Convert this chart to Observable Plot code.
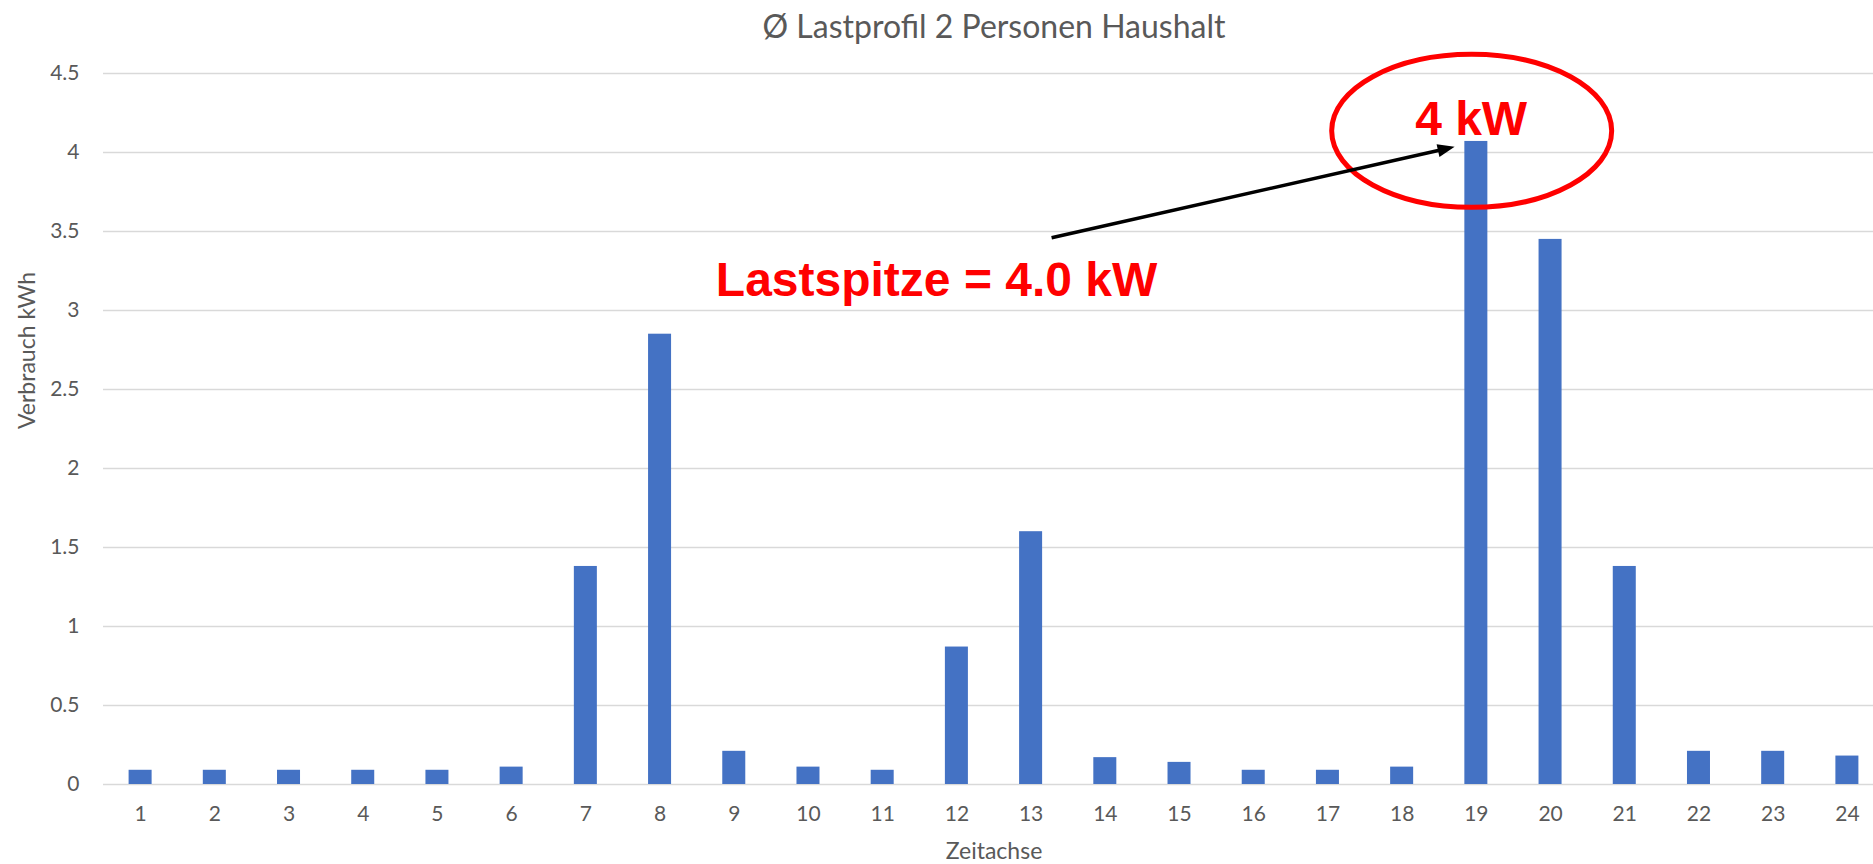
<!DOCTYPE html>
<html>
<head>
<meta charset="utf-8">
<script src="https://cdn.jsdelivr.net/npm/d3@7"></script>
<script src="https://cdn.jsdelivr.net/npm/@observablehq/plot@0.6"></script>
<style>
  html, body { margin: 0; padding: 0; background: #ffffff; }
  #chart svg { display: block; }
</style>
</head>
<body>
<div id="chart"></div>
<script>
// ---- data ----
const hours = [1, 2, 3, 4, 5, 6, 7, 8, 9, 10, 11, 12, 13, 14, 15, 16, 17, 18, 19, 20, 21, 22, 23, 24];
const verbrauch = [0.09, 0.09, 0.09, 0.09, 0.09, 0.11, 1.38, 2.85, 0.21, 0.11, 0.09, 0.87,
                   1.6, 0.17, 0.14, 0.09, 0.09, 0.11, 4.07, 3.45, 1.38, 0.21, 0.21, 0.18];
const yTicks = [0, 0.5, 1, 1.5, 2, 2.5, 3, 3.5, 4, 4.5];
const titleText = "Ø Lastprofil 2 Personen Haushalt";
const yLabel = "Verbrauch kWh";
const xLabel = "Zeitachse";
const peakLabel = "Lastspitze = 4.0 kW";
const peakValueLabel = "4 kW";

const data = hours.map((h, i) => ({hour: h, value: verbrauch[i]}));

// custom symbols for annotations
const ellipseSymbol = {
  draw(ctx) {
    const rx = 140, ry = 76.5, k = 0.5523;
    ctx.moveTo(rx, 0);
    ctx.bezierCurveTo(rx, ry * k, rx * k, ry, 0, ry);
    ctx.bezierCurveTo(-rx * k, ry, -rx, ry * k, -rx, 0);
    ctx.bezierCurveTo(-rx, -ry * k, -rx * k, -ry, 0, -ry);
    ctx.bezierCurveTo(rx * k, -ry, rx, -ry * k, rx, 0);
    ctx.closePath();
  }
};
const headSymbol = {
  draw(ctx) {
    ctx.moveTo(0, 0);
    ctx.lineTo(-17, -6.5);
    ctx.lineTo(-17, 6.5);
    ctx.closePath();
  }
};

const red = "#FF0000";
const grey = "#595959";
const boldFont = "'Liberation Sans', Arial, sans-serif";

const chart = Plot.plot({
  width: 1873,
  height: 864,
  marginLeft: 103,
  marginRight: -11,
  marginTop: 73,
  marginBottom: 80,
  style: {fontFamily: "Lato, 'Open Sans', sans-serif", fontSize: "21px", color: grey, background: "#ffffff", overflow: "hidden"},
  x: {domain: [0.5, 24.5]},
  y: {domain: [0, 4.5]},
  marks: [
    Plot.ruleY(yTicks, {stroke: "#d9d9d9", strokeWidth: 1.5}),
    Plot.rectY(data, {
      x1: d => d.hour - 0.5,
      x2: d => d.hour + 0.5,
      y: "value",
      insetLeft: 25.6,
      insetRight: 25.6,
      fill: "#4472C4"
    }),
    Plot.axisX(hours, {tickSize: 0, tickPadding: 22, tickFormat: d => String(d), label: null, fontSize: 21}),
    Plot.axisY(yTicks, {tickSize: 0, tickPadding: 24, tickFormat: d => String(d), label: null, fontSize: 21}),
    // axis titles and chart title
    Plot.text([xLabel], {frameAnchor: "bottom", lineAnchor: "bottom", dy: 74, fontSize: 23, fill: grey}),
    Plot.text([yLabel], {frameAnchor: "left", lineAnchor: "top", rotate: -90, dx: -85, fontSize: 23, fill: grey}),
    Plot.text([titleText], {frameAnchor: "top", lineAnchor: "top", dy: -58, fontSize: 32, fill: grey}),
    // annotations
    Plot.dot([{x: 18.937, y: 4.137}], {x: "x", y: "y", r: 10, symbol: ellipseSymbol, fill: "none", stroke: red, strokeWidth: 5}),
    Plot.text([{x: 18.93, y: 4.209, t: peakValueLabel}], {x: "x", y: "y", text: "t", fontSize: 48, fontWeight: "bold", fontFamily: boldFont, fill: red}),
    Plot.text([{x: 11.726, y: 3.192, t: peakLabel}], {x: "x", y: "y", text: "t", fontSize: 48, fontWeight: "bold", fontFamily: boldFont, fill: red}),
    Plot.link([{x1: 13.276, y1: 3.46, x2: 18.575, y2: 4.022}], {x1: "x1", y1: "y1", x2: "x2", y2: "y2", stroke: "#000000", strokeWidth: 3.5}),
    Plot.dot([{x: 18.707, y: 4.036}], {x: "x", y: "y", r: 8, symbol: headSymbol, rotate: -12.7, fill: "#000000", stroke: "none"})
  ]
});

document.getElementById("chart").appendChild(chart);
</script>
</body>
</html>
